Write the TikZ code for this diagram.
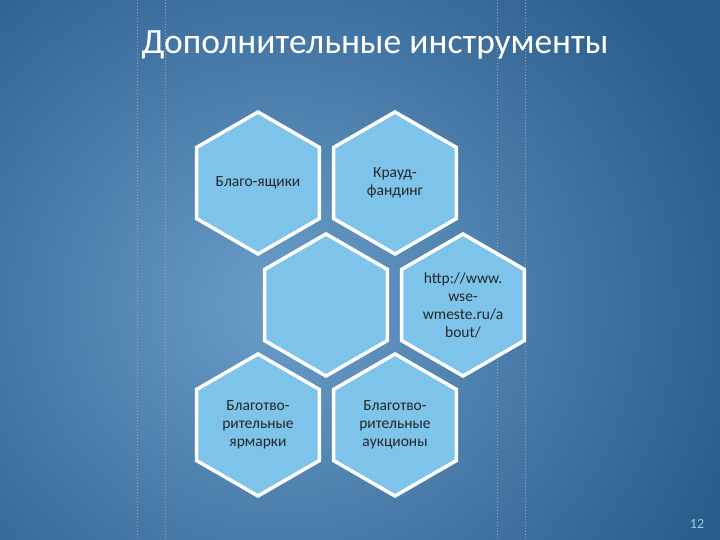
\documentclass[tikz,border=0pt]{standalone}
\usepackage{fontspec}
\setmainfont{Carlito}
\usetikzlibrary{shapes.geometric}
\definecolor{hexfill}{HTML}{7DC3EA}
\definecolor{bgc}{HTML}{6A9DC9}
\definecolor{bge}{HTML}{2A5C8C}
\tikzset{
 hexa/.style={regular polygon, regular polygon sides=6, shape border rotate=30, minimum size=142pt, inner sep=0pt,
   fill=hexfill, draw=white, line width=3.5pt, align=center,
   font=\fontsize{15.5}{18}\selectfont, text=black!85},
 guide/.style={draw=gray!70, dash pattern=on 1pt off 2pt, line width=0.6pt}
}
\begin{document}
\begin{tikzpicture}[x=1pt,y=-1pt]
\useasboundingbox (0,0) rectangle (720,540);
\fill[bge] (0,0) rectangle (720,540);
\shade[outer color=bge, inner color=bgc] (-200,-150) rectangle (760,760);
\foreach \x [count=\i] in {137,165,497,525} \coordinate (g\i) at (\x,0);
\foreach \i in {1,...,4} \draw[guide] (g\i) -- ++(0,540);
\node[text=white, font=\fontsize{35.5}{40}\selectfont] (title) at (375,45) {Дополнительные инструменты};
\node[hexa] (h1) at (258,183) {Благо-ящики};
\node[hexa] (h2) at (395,183) {Крауд-\\фандинг};
\node[hexa] (h3) at (326,305) {};
\node[hexa] (h4) at (463,305) {http://www.\\wse-\\wmeste.ru/a\\bout/};
\node[hexa] (h5) at (258,425) {Благотво-\\рительные\\ярмарки};
\node[hexa] (h6) at (395,425) {Благотво-\\рительные\\аукционы};
\node[text=hexfill!80!white, font=\fontsize{14}{16}\selectfont] (pg) at (697,524) {12};
\end{tikzpicture}
\end{document}
